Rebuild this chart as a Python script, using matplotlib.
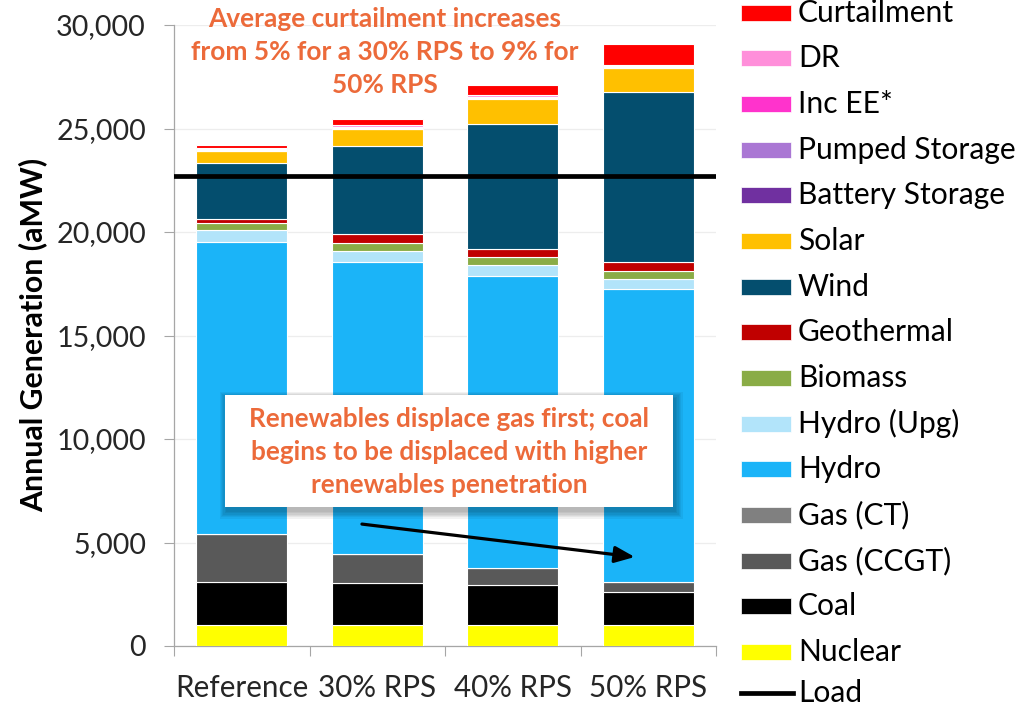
import matplotlib
matplotlib.use("Agg")
import matplotlib.pyplot as plt
from matplotlib.patches import Rectangle
from matplotlib.lines import Line2D
from matplotlib.textpath import TextPath
from matplotlib.font_manager import FontProperties
import numpy as np

# ---------------- data ----------------
scenarios = ["Reference", "30% RPS", "40% RPS", "50% RPS"]

nuclear     = [1010, 1010, 1010, 1010]
coal        = [2100, 2050, 1920, 1600]
gas_ccgt    = [2300, 1370, 820, 470]
gas_ct      = [20, 20, 20, 20]
hydro       = [14090, 14090, 14090, 14130]
hydro_upg   = [570, 545, 555, 485]
biomass     = [360, 377, 371, 385]
geothermal  = [200, 444, 385, 450]
wind        = [2700, 4250, 6030, 8200]
solar       = [565, 807, 1240, 1170]
battery     = [15, 20, 16, 14]
pumped      = [20, 28, 25, 20]
inc_ee      = [50, 70, 55, 50]
dr          = [60, 75, 65, 55]
curtailment = [130, 304, 498, 1010]
load = 22700

series_names = ["Nuclear", "Coal", "Gas (CCGT)", "Gas (CT)", "Hydro", "Hydro (Upg)",
                "Biomass", "Geothermal", "Wind", "Solar", "Battery Storage",
                "Pumped Storage", "Inc EE*", "DR", "Curtailment"]
series_values = [nuclear, coal, gas_ccgt, gas_ct, hydro, hydro_upg, biomass, geothermal,
                 wind, solar, battery, pumped, inc_ee, dr, curtailment]
series_colors = ["#FFFF00", "#000000", "#595959", "#808080", "#1BB4F8", "#B2E4FA",
                 "#8AAC46", "#C00000", "#044E6E", "#FFC000", "#7030A0",
                 "#AA77D4", "#FF33CC", "#FF8FDA", "#FF0000"]

# ---------------- layout ----------------
W, H, DPI = 1027, 706, 100
FAMILY = "Lato"
ORANGE = "#EC6A3A"


def fit(s, target_px, weight="normal"):
    fp = FontProperties(family=FAMILY, weight=weight)
    w = TextPath((0, 0), s, size=100, prop=fp).get_extents().width
    return 100.0 * target_px / (w * DPI / 72.0)


plt.rcParams["font.family"] = [FAMILY, "DejaVu Sans"]

fig = plt.figure(figsize=(W / DPI, H / DPI), dpi=DPI)
fig.patch.set_facecolor("white")

ax_l, ax_r, ax_t, ax_b = 174, 716, 25, 646
ax = fig.add_axes([ax_l / W, (H - ax_b) / H, (ax_r - ax_l) / W, (ax_b - ax_t) / H])

x = np.arange(len(scenarios))
bottom = np.zeros(len(scenarios))
for name, vals, col in zip(series_names, series_values, series_colors):
    v = np.array(vals, dtype=float)
    ax.bar(x, v, bottom=bottom, width=0.67, color=col, edgecolor="white",
           linewidth=0.8, zorder=3)
    bottom += v

ax.axhline(load, color="black", lw=3.4, zorder=4)

ax.set_xlim(-0.5, 3.5)
ax.set_ylim(0, 30000)

tick_fs = fit("30,000", 88)
xt_fs = fit("Reference", 129)
ax.set_yticks(np.arange(0, 30001, 5000))
ax.set_yticklabels([f"{v:,}" for v in range(0, 30001, 5000)], fontsize=tick_fs,
                   color="#262626")
ax.tick_params(axis="y", direction="out", length=7.2, width=0.8, color="#A6A6A6", pad=13)
ax.set_xticks(x)
ax.set_xticklabels(scenarios, fontsize=xt_fs, color="#262626")
ax.tick_params(axis="x", which="major", length=0, pad=20)
ax.set_xticks(np.arange(-0.5, 3.6, 1.0), minor=True)
ax.tick_params(axis="x", which="minor", direction="out", length=7.2, width=0.8,
               color="#A6A6A6")

ax.grid(axis="y", color="#EDEDED", lw=0.9, zorder=0)
ax.set_axisbelow(True)
for s in ["top", "right"]:
    ax.spines[s].set_visible(False)
for s in ["left", "bottom"]:
    ax.spines[s].set_color("#A6A6A6")
    ax.spines[s].set_linewidth(0.9)

ylab_fs = fit("Annual Generation (aMW)", 353, "bold")
fig.text(33 / W, 1 - 335 / H, "Annual Generation (aMW)", rotation=90, ha="center",
         va="center", fontsize=ylab_fs, fontweight="bold", color="#000000")

# ---------------- top annotation ----------------
top_fs = fit("Average curtailment increases", 352, "bold")
for txt, yy in [("Average curtailment increases", 19),
                ("from 5% for a 30% RPS to 9% for", 52),
                ("50% RPS", 85)]:
    fig.text(385 / W, 1 - yy / H, txt, ha="center", va="center", fontsize=top_fs,
             fontweight="bold", color=ORANGE, zorder=10)

# ---------------- boxed annotation ----------------
bx0, bx1, by0, by1 = 225, 673, 395, 507
for i in range(6):
    pad = 1 + i * 1.3
    fig.add_artist(Rectangle(((bx0 + 2 - pad) / W, (H - by1 - 4 - pad) / H),
                             (bx1 - bx0 + 2 * pad) / W, (by1 - by0 + 2 * pad) / H,
                             transform=fig.transFigure, facecolor="black",
                             edgecolor="none", alpha=0.05, zorder=8))
fig.add_artist(Rectangle((bx0 / W, (H - by1) / H), (bx1 - bx0) / W, (by1 - by0) / H,
                         transform=fig.transFigure, facecolor="white",
                         edgecolor="none", zorder=9))
box_fs = fit("Renewables displace gas first; coal", 396, "bold")
for txt, yy in [("Renewables displace gas first; coal", 419),
                ("begins to be displaced with higher", 452),
                ("renewables penetration", 485)]:
    fig.text(449 / W, 1 - yy / H, txt, ha="center", va="center", fontsize=box_fs,
             fontweight="bold", color=ORANGE, zorder=10)

# arrow (data coordinates)
ax.annotate("", xy=(2.90, 4300), xytext=(0.887, 5890),
            arrowprops=dict(arrowstyle="-|>,head_length=1.2,head_width=0.5",
                            color="black", lw=2.3, shrinkA=0, shrinkB=0),
            zorder=6)

# ---------------- legend (manual) ----------------
leg_fs = fit("Pumped Storage", 214)
legend_order = list(zip(series_names, series_colors))[::-1]
pitch = 45.67
for i, (name, col) in enumerate(legend_order):
    yc = 12.7 + i * pitch
    fig.add_artist(Rectangle((741 / W, (H - yc - 8) / H), 50 / W, 16 / H,
                             transform=fig.transFigure, facecolor=col,
                             edgecolor="white", lw=0.5))
    fig.text(798 / W, 1 - yc / H, name, ha="left", va="center", fontsize=leg_fs,
             color="#000000")
yc = 693
fig.add_artist(Line2D([741 / W, 793 / W], [1 - yc / H, 1 - yc / H],
                      transform=fig.transFigure, color="black", lw=3.4))
fig.text(798 / W, 1 - yc / H, "Load", ha="left", va="center", fontsize=leg_fs,
         color="#000000")

fig.savefig("out.png", dpi=DPI, facecolor="white")
